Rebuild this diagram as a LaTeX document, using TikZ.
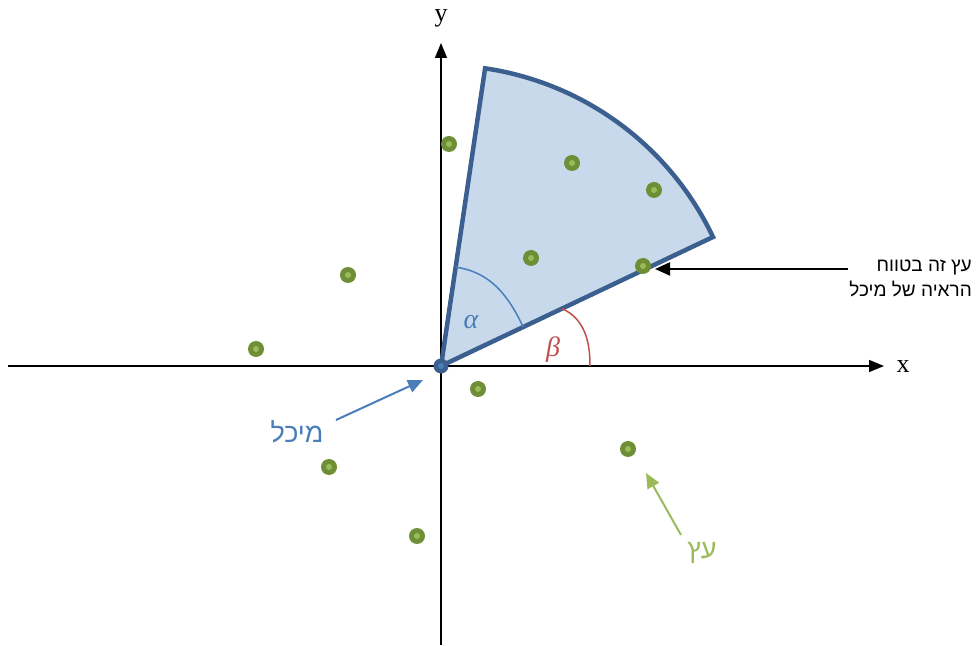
\documentclass[tikz,border=0pt]{standalone}
\usepackage{fontspec}
\setmainfont{Liberation Serif}
\newfontfamily\hebfont[Script=Hebrew]{Liberation Sans}
\TeXXeTstate=1
\usetikzlibrary{arrows.meta,calc}
\definecolor{secedge}{HTML}{3B5F8E}
\definecolor{secfill}{HTML}{C9D9EC}
\definecolor{mblue}{HTML}{4A7EBB}
\definecolor{treeout}{HTML}{6F8F36}
\definecolor{treein}{HTML}{9BBB59}
\definecolor{treelbl}{HTML}{9BBB59}
\definecolor{betared}{HTML}{C0504D}
\tikzset{
  axis/.style={line width=1.5pt,-{Triangle[length=15pt,width=12pt]}},
  tree/.style={circle,fill=treeout,inner sep=0pt,minimum size=16pt,
    path picture={\fill[treein] (path picture bounding box.center) circle (3pt);}},
  callout/.style={line width=2pt,-{Triangle[length=15pt,width=13pt]}},
}
\begin{document}
\begin{tikzpicture}[x=1pt,y=1pt]
\useasboundingbox (0,0) rectangle (976,645);
% axes
\coordinate (xs) at (8,279);
\coordinate (xe) at (884,279);
\coordinate (ys) at (441,0);
\coordinate (ye) at (441,602);
\draw[axis] (xs) -- (xe);
\draw[axis] (ys) -- (ye);
\node[font=\fontsize{26}{30}\selectfont] (xl) at (903,278) {x};
\node[font=\fontsize{26}{30}\selectfont] (yl) at (441,627) {y};
% sector
\coordinate (O) at (441,279);
\fill[secfill] (O) -- (713,408) arc[start angle=25.4,end angle=81.6,radius=301] -- cycle;
\draw[secedge,line width=4.5pt,line join=miter] (O) -- (713,408) arc[start angle=25.4,end angle=81.6,radius=301] -- cycle;
% angle arcs
\coordinate (a1) at ($(O)+(81.6:100)$);
\coordinate (a2) at ($(O)+(25.4:91)$);
\coordinate (b1) at ($(O)+(25.4:134)$);
\coordinate (b2) at (590,279);
\draw[mblue,line width=1.5pt] (a1) to[out=-8.4,in=115.4] (a2);
\draw[betared,line width=1.5pt] (b1) to[out=-25,in=90] (b2);
\node[text=mblue,font=\itshape\fontsize{28}{30}\selectfont] (al) at (471,323) {α};
\node[text=betared,font=\itshape\fontsize{28}{30}\selectfont] (bl) at (553,295) {β};
% trees
\node[tree] (t1) at (449,501) {};
\node[tree] (t2) at (572,482) {};
\node[tree] (t3) at (654,455) {};
\node[tree] (t4) at (531,387) {};
\node[tree] (t5) at (643,379) {};
\node[tree] (t6) at (348,370) {};
\node[tree] (t7) at (256,296) {};
\node[tree] (t8) at (478,256) {};
\node[tree] (t9) at (628,196) {};
\node[tree] (t10) at (329,178) {};
\node[tree] (t11) at (417,109) {};
% Michal
\node[circle,fill=secedge,inner sep=0pt,minimum size=15pt,
  path picture={\fill[mblue] (path picture bounding box.center) circle (3pt);}] (mich) at (O) {};
\node[text=mblue,font=\hebfont\fontsize{27}{30}\selectfont] (ml) at (297,213) {\beginR מיכל\endR};
\coordinate (ms) at (336,225);
\coordinate (me) at (423,265);
\draw[callout,mblue] (ms) -- (me);
% tree label
\node[text=treelbl,font=\hebfont\fontsize{27}{30}\selectfont] (tl) at (702,92) {\beginR עץ\endR};
\coordinate (ts) at (681,110);
\coordinate (te) at (646,172);
\draw[callout,treelbl] (ts) -- (te);
% right note
\node[anchor=east,align=right,font=\hebfont\fontsize{19}{25}\selectfont,inner sep=0pt] (note) at (972,367) {\beginR עץ זה בטווח\endR\\\beginR הראיה של מיכל\endR};
\coordinate (ns) at (848,376);
\coordinate (ne) at (655,376);
\draw[callout,black] (ns) -- (ne);
\end{tikzpicture}
\end{document}
